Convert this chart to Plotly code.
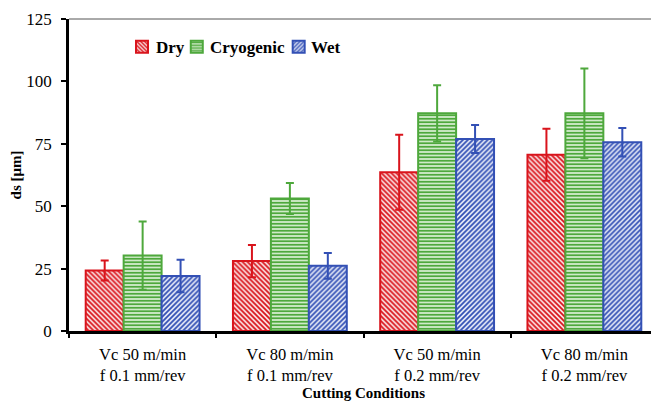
import plotly.graph_objects as go

categories = ["Vc 50 m/min<br>f 0.1 mm/rev", "Vc 80 m/min<br>f 0.1 mm/rev",
              "Vc 50 m/min<br>f 0.2 mm/rev", "Vc 80 m/min<br>f 0.2 mm/rev"]
series_names = ["Dry", "Cryogenic", "Wet"]
dry = [24.2, 28.0, 63.6, 70.6]
dry_err = [4.0, 6.5, 15.0, 10.4]
cryo = [30.2, 53.1, 87.2, 87.2]
cryo_err = [13.7, 6.2, 11.3, 18.0]
wet = [22.0, 26.1, 76.9, 75.6]
wet_err = [6.5, 5.2, 5.6, 5.7]

styles = [
    ("#d9141c", "#fbe3e4", "\\", "legend", 0.090, 0.144),
    ("#4ea83c", "#cfeac8", "-", "legend2", 0.183, 0.236),
    ("#3350b5", "#e6eaf8", "/", "legend3", 0.356, 0.407),
]

font_family = "Liberation Serif"
fig = go.Figure()
legends = {}
annotations = []
for name, vals, errs, (col, light, shape, leg, lx, tx) in zip(
        series_names, [dry, cryo, wet], [dry_err, cryo_err, wet_err], styles):
    fig.add_trace(go.Bar(
        name="", x=categories, y=vals, legend=leg, hovertemplate=name + ": %{y}<extra></extra>",
        marker=dict(color=light,
                    line=dict(color=col, width=2),
                    pattern=dict(shape=shape, fgcolor=col, bgcolor=light,
                                 size=3.5, solidity=0.5, fillmode="replace")),
        error_y=dict(type="data", array=errs, visible=True,
                     color=col, thickness=2, width=4),
    ))
    legends[leg] = dict(orientation="h", x=lx, y=0.910, xanchor="left", yanchor="middle",
                        font=dict(family=font_family, size=17, color="black"),
                        itemwidth=30, bgcolor="rgba(0,0,0,0)")
    annotations.append(dict(text="<b>" + name + "</b>", xref="paper", yref="paper",
                            x=tx, y=0.910, xanchor="left", yanchor="middle", showarrow=False,
                            font=dict(family=font_family, size=17, color="black")))

# page body has an 8px margin; size the figure so the plot area lands where the reference has it
fig.update_layout(
    width=651, height=395,
    margin=dict(l=61, r=1, t=11, b=72),
    paper_bgcolor="white", plot_bgcolor="white",
    barmode="group", bargap=0.227, bargroupgap=0.0,
    font=dict(family=font_family, size=16, color="black"),
    showlegend=True,
    annotations=annotations,
    shapes=[dict(type="line", xref="paper", yref="paper", x0=0, x1=1, y0=1, y1=1,
                 line=dict(color="#555555", width=1))],
    **legends,
)
fig.update_xaxes(
    showline=True, linecolor="black", linewidth=2.5,
    ticks="outside", tickson="boundaries", ticklen=4, tickwidth=2, tickcolor="black",
    ticklabelstandoff=6,
    tickfont=dict(family=font_family, size=16.5),
    title=dict(text="<b>Cutting Conditions</b>", font=dict(family=font_family, size=15), standoff=2),
    showgrid=False,
)
fig.update_yaxes(
    range=[0, 125], tickvals=[0, 25, 50, 75, 100, 125],
    showline=True, linecolor="black", linewidth=2.5,
    ticks="outside", ticklen=5, tickwidth=2, tickcolor="black",
    ticklabelstandoff=6,
    tickfont=dict(family=font_family, size=17),
    title=dict(text="<b>ds [μm]</b>", font=dict(family=font_family, size=15), standoff=8),
    showgrid=False, zeroline=False,
)
fig.write_html("out.html")
